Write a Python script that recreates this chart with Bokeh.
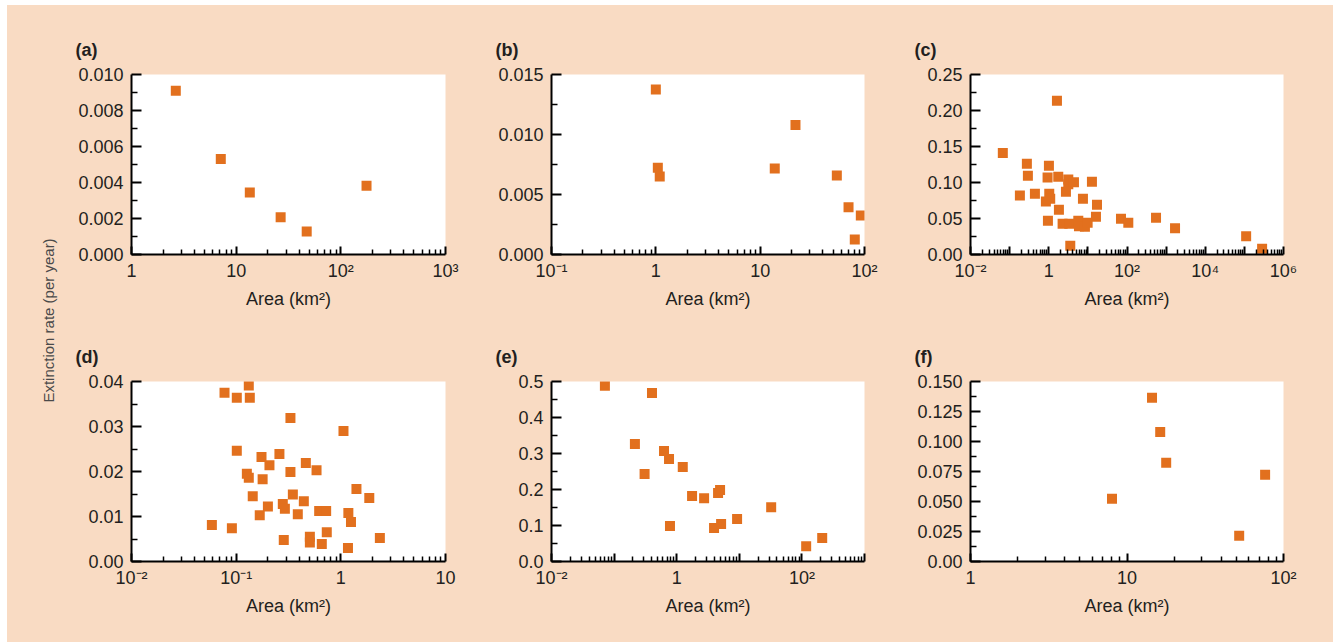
import math
from bokeh.plotting import figure
from bokeh.models import Range1d, FixedTicker, Title
from bokeh.models import Label
from bokeh.layouts import row, column
from bokeh.embed import file_html
from bokeh.resources import INLINE

PEACH = "#F9DBC3"
ORANGE = "#E2701E"
TEXT = "#231F20"
FONT = "Liberation Sans"

# ---------------- data ----------------
a_area = [2.65, 7.13, 13.5, 26.6, 47.2, 176]
a_rate = [0.0091, 0.0053, 0.00345, 0.00207, 0.00128, 0.00382]

b_area = [1.0, 1.045, 1.09, 13.8, 21.8, 54.3, 70.3, 92.2, 80.7]
b_rate = [0.01375, 0.00722, 0.0065, 0.00717, 0.0108, 0.00658, 0.00394, 0.00325, 0.00125]

c_area = [0.067, 1.62, 0.276, 0.293, 0.183, 0.443, 1.01, 0.933, 1.03, 1.09, 0.845,
          0.953, 1.75, 3.16, 3.16, 4.41, 2.75, 1.82, 2.26, 3.35, 3.55, 5.69, 5.92,
          8.41, 9.86, 7.48, 12.7, 17.1, 16.1, 70.2, 108, 552, 1690, 111000, 284000]
c_rate = [0.141, 0.2134, 0.1259, 0.1093, 0.0819, 0.0843, 0.1231, 0.1069, 0.0843, 0.0773, 0.0736,
          0.0468, 0.1079, 0.1042, 0.0977, 0.1005, 0.087, 0.062, 0.0426, 0.0426, 0.012, 0.0468, 0.0394,
          0.0384, 0.044, 0.0773, 0.1009, 0.069, 0.0523, 0.0495, 0.044, 0.0509, 0.0366, 0.0255, 0.0079]

d_area = [0.132, 0.0774, 0.1014, 0.135, 0.330, 1.06, 0.1014, 0.1746, 0.259, 0.208,
          0.463, 0.586, 0.330, 0.1265, 0.132, 0.179, 0.144, 0.348, 0.443, 0.279,
          0.292, 0.201, 0.168, 0.388, 0.621, 0.724, 1.41, 1.87, 1.18, 1.25,
          0.0586, 0.091, 0.734, 0.285, 0.506, 0.506, 0.658, 1.17, 2.36]
d_rate = [0.0391, 0.0375, 0.0364, 0.0364, 0.0319, 0.029, 0.0246, 0.0232, 0.0239, 0.0214,
          0.0219, 0.0203, 0.0199, 0.0195, 0.0186, 0.0183, 0.0145, 0.0149, 0.0134, 0.0128,
          0.0117, 0.0122, 0.0103, 0.0105, 0.0112, 0.0112, 0.0161, 0.0141, 0.0108, 0.0088,
          0.0081, 0.0074, 0.0065, 0.0048, 0.0055, 0.0042, 0.0039, 0.003, 0.0052]

e_area = [0.0713, 0.403, 0.215, 0.307, 0.627, 0.754, 1.25, 0.781, 1.76, 2.74,
          4.58, 4.93, 3.95, 5.12, 9.22, 32.3, 117, 211]
e_rate = [0.488, 0.468, 0.3265, 0.243, 0.307, 0.285, 0.2625, 0.0983, 0.182, 0.176,
          0.190, 0.1985, 0.0928, 0.104, 0.118, 0.151, 0.0427, 0.065]

f_area = [8.02, 14.45, 16.3, 17.8, 52.1, 76.3]
f_rate = [0.0522, 0.1364, 0.108, 0.0822, 0.0214, 0.0722]

# x ranges as powers of ten (low, high) and decade tick labels
a_xdecades = (0, 3)
b_xdecades = (-1, 2)
c_xdecades = (-2, 6)
d_xdecades = (-2, 1)
e_xdecades = (-2, 3)
f_xdecades = (0, 2)

a_xlabels = {0: "1", 1: "10", 2: "10²", 3: "10³"}
b_xlabels = {-1: "10⁻¹", 0: "1", 1: "10", 2: "10²"}
c_xlabels = {-2: "10⁻²", 0: "1", 2: "10²", 4: "10⁴", 6: "10⁶"}
d_xlabels = {-2: "10⁻²", -1: "10⁻¹", 0: "1", 1: "10"}
e_xlabels = {-2: "10⁻²", 0: "1", 2: "10²"}
f_xlabels = {0: "1", 1: "10", 2: "10²"}

a_yticks = [0.0, 0.002, 0.004, 0.006, 0.008, 0.010]
a_ylabels = ["0.000", "0.002", "0.004", "0.006", "0.008", "0.010"]
b_yticks = [0.0, 0.005, 0.010, 0.015]
b_ylabels = ["0.000", "0.005", "0.010", "0.015"]
c_yticks = [0.0, 0.05, 0.10, 0.15, 0.20, 0.25]
c_ylabels = ["0.00", "0.05", "0.10", "0.15", "0.20", "0.25"]
d_yticks = [0.0, 0.01, 0.02, 0.03, 0.04]
d_ylabels = ["0.00", "0.01", "0.02", "0.03", "0.04"]
e_yticks = [0.0, 0.1, 0.2, 0.3, 0.4, 0.5]
e_ylabels = ["0.0", "0.1", "0.2", "0.3", "0.4", "0.5"]
f_yticks = [0.0, 0.025, 0.05, 0.075, 0.1, 0.125, 0.15]
f_ylabels = ["0.00", "0.025", "0.050", "0.075", "0.100", "0.125", "0.150"]

x_title = "Area (km²)"
y_title = "Extinction rate (per year)"


def panel(letter, xs, ys, decades, xlabels, yticks, ylabels, width, height, bl, br, bt, bb):
    elo, ehi = decades
    p = figure(width=width, height=height, x_axis_type="log",
               x_range=Range1d(10.0 ** elo, 10.0 ** ehi),
               y_range=Range1d(yticks[0], yticks[-1]),
               output_backend="svg", toolbar_location=None,
               min_border_left=bl, min_border_right=br,
               min_border_top=bt, min_border_bottom=bb)
    p.background_fill_color = "white"
    p.border_fill_color = PEACH
    p.outline_line_color = None
    p.grid.visible = False

    p.title = Title(text="(" + letter + ")", align="left", offset=-56,
                    text_font=FONT, text_font_size="18px", text_font_style="bold",
                    text_color=TEXT, standoff=29)

    xt = [10.0 ** e for e in range(elo, ehi + 1)]
    xminor = [m * 10.0 ** e for e in range(elo, ehi) for m in range(2, 10)]
    xa = p.xaxis[0]
    xa.ticker = FixedTicker(ticks=xt, minor_ticks=xminor)
    xa.major_label_overrides = {10.0 ** e: xlabels.get(e, "") for e in range(elo, ehi + 1)}
    xa.major_tick_in = 8
    xa.minor_tick_in = 5
    xa.axis_label = x_title
    xa.axis_label_standoff = 5

    ymin = [(yticks[i] + yticks[i + 1]) / 2 for i in range(len(yticks) - 1)]
    ya = p.yaxis[0]
    ya.ticker = FixedTicker(ticks=yticks, minor_ticks=ymin)
    ya.major_label_overrides = dict(zip(yticks, ylabels))
    ya.major_tick_in = 10
    ya.minor_tick_in = 6

    for ax in (xa, ya):
        ax.major_tick_out = 0
        ax.minor_tick_out = 0
        ax.axis_line_width = 2
        ax.axis_line_color = "black"
        ax.major_tick_line_width = 2
        ax.minor_tick_line_width = 1.5
        ax.major_tick_line_color = "black"
        ax.minor_tick_line_color = "black"
        ax.major_label_text_font = FONT
        ax.major_label_text_font_size = "18px"
        ax.major_label_text_color = TEXT
        ax.axis_label_text_font = FONT
        ax.axis_label_text_font_size = "18px"
        ax.axis_label_text_font_style = "normal"
        ax.axis_label_text_color = TEXT
    xa.major_label_standoff = 6
    ya.major_label_standoff = 8

    p.scatter(xs, ys, marker="square", size=10, fill_color=ORANGE, line_color=None)
    return p


H1, H2 = 316, 321
pa = panel("a", a_area, a_rate, a_xdecades, a_xlabels, a_yticks, a_ylabels, 420, H1, 71, 35, 69, 67)
pb = panel("b", b_area, b_rate, b_xdecades, b_xlabels, b_yticks, b_ylabels, 420, H1, 71, 36, 69, 67)
pc = panel("c", c_area, c_rate, c_xdecades, c_xlabels, c_yticks, c_ylabels, 433, H1, 70, 50, 69, 67)
pd = panel("d", d_area, d_rate, d_xdecades, d_xlabels, d_yticks, d_ylabels, 420, H2, 71, 35, 60, 81)
pe = panel("e", e_area, e_rate, e_xdecades, e_xlabels, e_yticks, e_ylabels, 420, H2, 71, 36, 60, 81)
pf = panel("f", f_area, f_rate, f_xdecades, f_xlabels, f_yticks, f_ylabels, 433, H2, 70, 50, 60, 81)

SH = H1 + H2
SW = 53
strip = figure(width=SW, height=SH, x_range=Range1d(0, SW), y_range=Range1d(0, SH),
               x_axis_type=None, y_axis_type=None, output_backend="svg",
               toolbar_location=None, min_border=0)
strip.background_fill_color = PEACH
strip.border_fill_color = PEACH
strip.outline_line_color = None
strip.grid.visible = False
# title centred at page x=48, y=320 (strip origin at page x=7, y=5)
strip.add_layout(Label(x=48 - 7, y=SH - (320 - 5), text=y_title, angle=math.pi / 2,
                       text_font=FONT, text_font_size="15px", text_color="#4A4A4A",
                       text_align="center", text_baseline="middle"))

bg = {"background-color": PEACH}
r1 = row(pa, pb, pc, styles=bg)
r2 = row(pd, pe, pf, styles=bg)
col = column(r1, r2, styles=bg)
layout = row(strip, col, styles=bg, margin=(5, 0, 0, 7))

css = ("<style>html { background: linear-gradient(to right, #ffffff 7px, transparent 7px), "
       "linear-gradient(to bottom, #ffffff 5px, " + PEACH + " 5px); } "
       "body { background: transparent; }</style>")
html = file_html(layout, INLINE)
html = html.replace("<head>", "<head>" + css, 1)
open("out.html", "w").write(html)
